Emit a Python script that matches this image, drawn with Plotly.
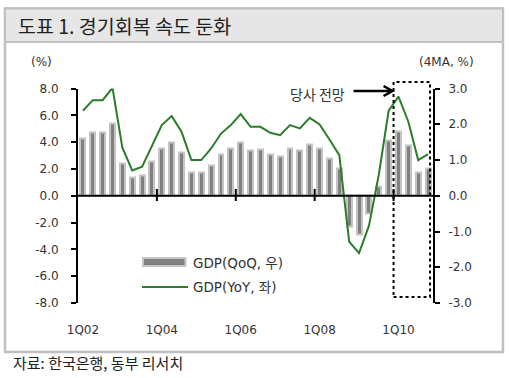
import plotly.graph_objects as go

# ---------------- data ----------------
QUARTERS = [
    "1Q02", "2Q02", "3Q02", "4Q02", "1Q03", "2Q03", "3Q03", "4Q03",
    "1Q04", "2Q04", "3Q04", "4Q04", "1Q05", "2Q05", "3Q05", "4Q05",
    "1Q06", "2Q06", "3Q06", "4Q06", "1Q07", "2Q07", "3Q07", "4Q07",
    "1Q08", "2Q08", "3Q08", "4Q08", "1Q09", "2Q09", "3Q09", "4Q09",
    "1Q10", "2Q10", "3Q10", "4Q10",
]
# GDP QoQ (right axis, 4MA %)
GDP_QOQ = [
    1.60, 1.76, 1.76, 2.01, 0.90, 0.52, 0.58, 0.97,
    1.31, 1.48, 1.21, 0.66, 0.66, 0.85, 1.16, 1.31,
    1.49, 1.27, 1.28, 1.16, 1.11, 1.31, 1.27, 1.42,
    1.31, 1.04, 0.77, -0.87, -1.07, -0.49, 0.26, 1.55,
    1.79, 1.41, 0.66, 0.77,
]
# GDP YoY (left axis, %)
GDP_YOY = [
    6.34, 7.13, 7.13, 8.05, 3.58, 1.89, 2.16, 3.73,
    5.27, 5.94, 4.77, 2.66, 2.66, 3.53, 4.64, 5.27,
    6.09, 5.14, 5.14, 4.70, 4.52, 5.27, 5.02, 5.81,
    5.32, 4.20, 3.03, -3.43, -4.28, -2.25, 1.55, 6.34,
    7.39, 5.52, 2.66, 3.10,
]
X_TICK_LABELS = ["1Q02", "1Q04", "1Q06", "1Q08", "1Q10"]
LEFT_TICKS = [-8, -6, -4, -2, 0, 2, 4, 6, 8]
RIGHT_TICKS = [-3, -2, -1, 0, 1, 2, 3]
FORECAST_START = "1Q10"

TITLE = "도표 1. 경기회복 속도 둔화"
SOURCE = "자료: 한국은행, 동부 리서치"
BAR_NAME = "GDP(QoQ, 우)"
LINE_NAME = "GDP(YoY, 좌)"
FORECAST_TEXT = "당사 전망"

# ---------------- layout helpers ----------------
W, H = 509, 378
def px(x):
    return x / W
def py(y):
    return 1 - y / H

LAT = "DejaVu Sans, Noto Sans CJK KR, sans-serif"
KR = "Noto Sans CJK KR, sans-serif"
TXT = "#333333"
GREEN = "#2b7d2b"
BAR_FILL = "#808080"
BAR_EDGE = "#c4c4c4"

X_DOMAIN = [px(78), px(433)]
Y_DOMAIN = [py(303), py(88.5)]

def fmt(v):
    return f"{v:.1f}"

fig = go.Figure()
fig.add_trace(go.Bar(
    x=QUARTERS, y=GDP_QOQ, yaxis="y", width=0.5,
    marker=dict(color=BAR_FILL, line=dict(color=BAR_EDGE, width=2)),
    showlegend=False, name=BAR_NAME,
))
fig.add_trace(go.Scatter(
    x=QUARTERS, y=GDP_YOY, yaxis="y2", mode="lines",
    line=dict(color=GREEN, width=2), showlegend=False, name=LINE_NAME,
))

n = len(QUARTERS)
fig.update_layout(
    template="none",
    width=W, height=H,
    margin=dict(l=0, r=0, t=0, b=0, pad=0, autoexpand=False),
    paper_bgcolor="white", plot_bgcolor="rgba(0,0,0,0)",
    bargap=0,
    xaxis=dict(
        domain=X_DOMAIN, type="category", range=[-0.5, n - 0.5],
        categoryorder="array", categoryarray=QUARTERS,
        tickmode="array", tickvals=X_TICK_LABELS, ticktext=X_TICK_LABELS,
        ticks="", showline=False, showgrid=False, zeroline=False,
        tickfont=dict(family=LAT, size=12, color=TXT),
        ticklabelstandoff=18, automargin=False,
        anchor="y",
    ),
    yaxis=dict(
        domain=Y_DOMAIN, side="right", range=[-3, 3],
        tickmode="array", tickvals=RIGHT_TICKS, ticktext=[fmt(v) for v in RIGHT_TICKS],
        showline=True, linecolor="black", linewidth=2,
        ticks="outside", ticklen=5, tickwidth=2, tickcolor="black",
        showgrid=False, zeroline=False, automargin=False,
        tickfont=dict(family=LAT, size=12, color=TXT),
        ticklabelstandoff=6, anchor="x",
    ),
    yaxis2=dict(
        domain=Y_DOMAIN, side="left", overlaying="y", range=[-8, 8],
        tickmode="array", tickvals=LEFT_TICKS, ticktext=[fmt(v) for v in LEFT_TICKS],
        showline=True, linecolor="black", linewidth=2,
        ticks="outside", ticklen=5, tickwidth=2, tickcolor="black",
        showgrid=False, zeroline=False, automargin=False,
        tickfont=dict(family=LAT, size=12, color=TXT),
        ticklabelstandoff=10, anchor="x",
    ),
)

shapes = []
# outer frame and title band
shapes.append(dict(type="rect", xref="paper", yref="paper",
                   x0=px(5), x1=px(503), y0=py(352), y1=py(8.5),
                   line=dict(color="#c0c0c0", width=2.5), fillcolor="white", layer="below"))
shapes.append(dict(type="rect", xref="paper", yref="paper",
                   x0=px(5), x1=px(503), y0=py(42), y1=py(8.5),
                   line=dict(color="#c0c0c0", width=2), fillcolor="#e6e6e6", layer="below"))
# zero line
shapes.append(dict(type="line", xref="paper", yref="y2", x0=X_DOMAIN[0], x1=X_DOMAIN[1],
                   y0=0, y1=0, line=dict(color="black", width=2), layer="above"))
# x tick marks on the zero line (category boundaries before labelled quarters)
for lab in X_TICK_LABELS[1:]:
    b = QUARTERS.index(lab) - 0.5
    shapes.append(dict(type="line", xref="x", yref="y2", x0=b, x1=b, y0=-0.4, y1=0.5,
                       line=dict(color="black", width=2), layer="above"))
# forecast dotted box
fs = QUARTERS.index(FORECAST_START) - 0.5
shapes.append(dict(type="rect", xref="x", yref="paper", x0=fs, x1=n - 0.8,
                   y0=py(297), y1=py(82), line=dict(color="black", width=2, dash="dot"),
                   fillcolor="rgba(0,0,0,0)", layer="above"))
# arrow pointing to forecast box
shapes.append(dict(type="path", xref="x", yref="paper", xsizemode="pixel", ysizemode="pixel",
                   xanchor=fs, yanchor=py(91),
                   path="M -40,0 L -1,0 M -10,-5 L -1,0 L -10,5",
                   line=dict(color="black", width=2.5), layer="above"))
# legend swatches
shapes.append(dict(type="rect", xref="paper", yref="paper", x0=px(143), x1=px(185.5),
                   y0=py(266), y1=py(258), fillcolor=BAR_FILL,
                   line=dict(color=BAR_EDGE, width=2)))
shapes.append(dict(type="line", xref="paper", yref="paper", x0=px(142), x1=px(188),
                   y0=py(287), y1=py(287), line=dict(color=GREEN, width=2)))
fig.update_layout(shapes=shapes)

ann = []
ann.append(dict(text=TITLE, xref="paper", yref="paper", x=px(16), y=py(25.5),
                xanchor="left", yanchor="middle", showarrow=False,
                font=dict(family=KR, size=19.5, color="#222222")))
ann.append(dict(text=SOURCE, xref="paper", yref="paper", x=px(11), y=py(362),
                xanchor="left", yanchor="middle", showarrow=False,
                font=dict(family=KR, size=15, color="#222222")))
ann.append(dict(text="(%)", xref="paper", yref="paper", x=px(41), y=py(62),
                xanchor="center", yanchor="middle", showarrow=False,
                font=dict(family=LAT, size=12, color=TXT)))
ann.append(dict(text="(4MA, %)", xref="paper", yref="paper", x=px(476), y=py(62),
                xanchor="right", yanchor="middle", showarrow=False,
                font=dict(family=LAT, size=12, color=TXT)))
ann.append(dict(text=FORECAST_TEXT, xref="paper", yref="paper", x=px(347), y=py(94),
                xanchor="right", yanchor="middle", showarrow=False,
                font=dict(family=KR, size=14, color=TXT)))
ann.append(dict(text=BAR_NAME, xref="paper", yref="paper", x=px(191), y=py(262.5),
                xanchor="left", yanchor="middle", showarrow=False,
                font=dict(family=LAT, size=13.5, color=TXT)))
ann.append(dict(text=LINE_NAME, xref="paper", yref="paper", x=px(191), y=py(287),
                xanchor="left", yanchor="middle", showarrow=False,
                font=dict(family=LAT, size=13.5, color=TXT)))
fig.update_layout(annotations=ann)

fig.write_html(
    "out.html",
    config={"displayModeBar": False},
    post_script="document.body.style.margin='0';document.body.style.overflow='hidden';",
)
